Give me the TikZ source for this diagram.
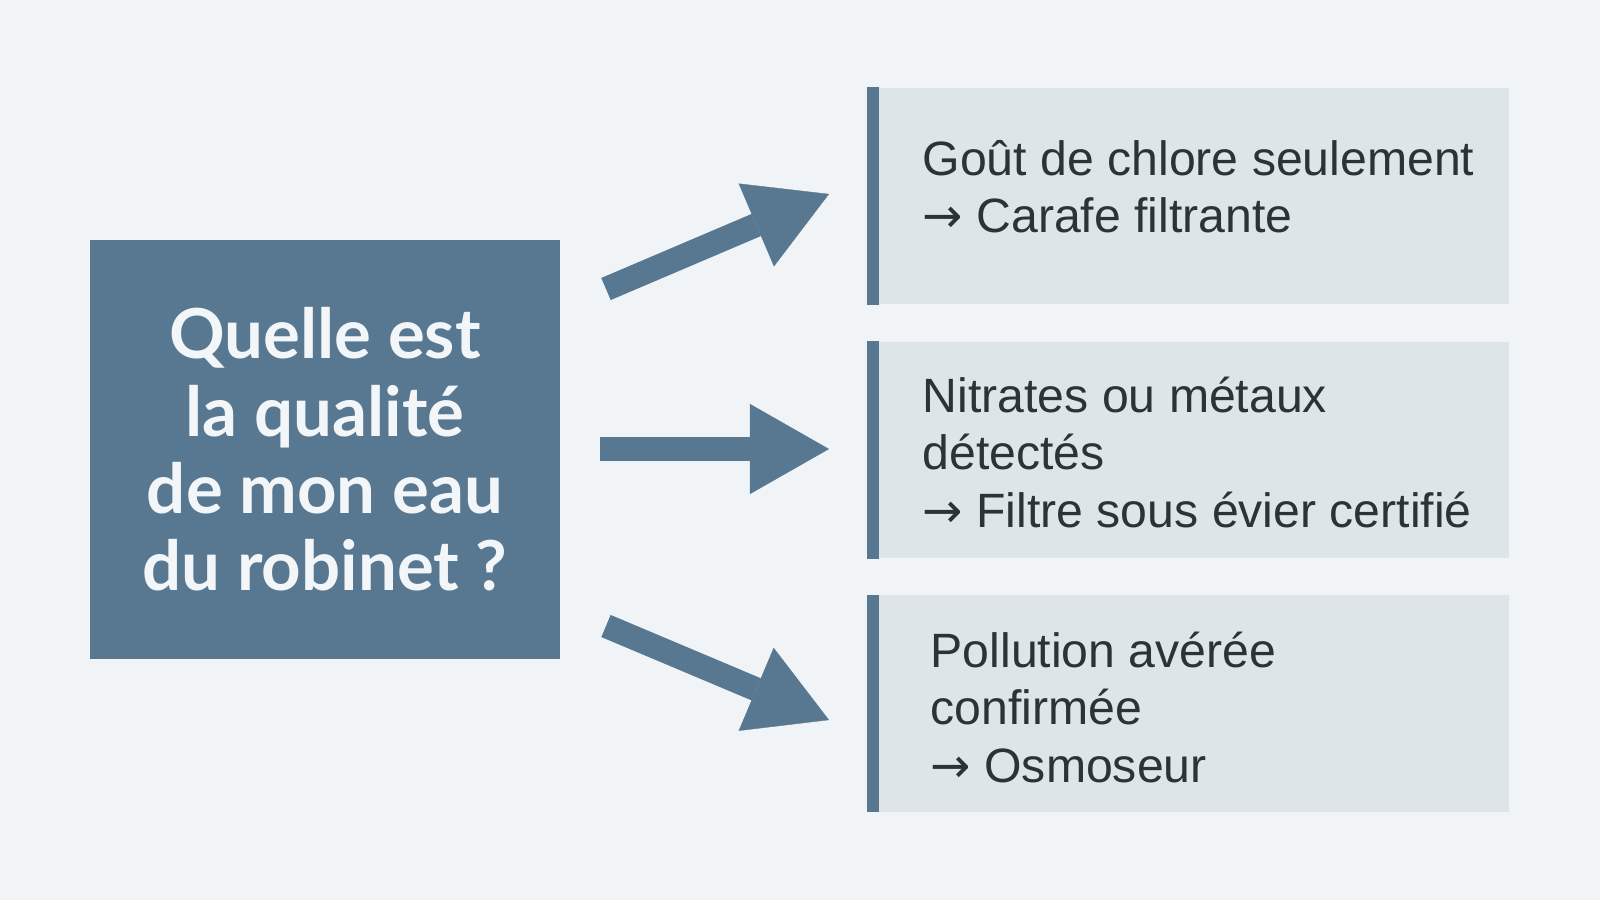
\documentclass[tikz,border=0pt]{standalone}
\usepackage{fontspec}
\setmainfont{Liberation Sans}
\newfontfamily\qfont{Lato}
\newfontfamily\arrfont{DejaVu Sans}
\usetikzlibrary{arrows.meta}
\definecolor{slate}{HTML}{587891}
\definecolor{pale}{HTML}{DDE5E8}
\definecolor{paper}{HTML}{F0F4F7}
\definecolor{ink}{HTML}{2B3238}
\definecolor{snow}{HTML}{F2F6F8}
\newcommand{\goesto}{{\arrfont →}}
\tikzset{
  qbox/.style={fill=slate, minimum width=4.7cm, minimum height=4.19cm, inner sep=0pt},
  qtext/.style={align=center, text=snow, inner sep=0pt,
    font=\qfont\bfseries\fontsize{19.6}{22}\selectfont},
  abox/.style={fill=pale, minimum width=6.41cm, minimum height=2.16cm, inner sep=0pt},
  atext/.style={anchor=base west, align=left, text=ink, inner sep=0pt,
    font=\fontsize{13.7}{16.3}\selectfont},
  fat/.style={slate, line width=0.24cm,
    -{Triangle[length=0.79cm, width=0.9cm, line width=0.1pt]}},
}
\begin{document}
\begin{tikzpicture}[x=0.01cm, y=-0.01cm]
  \fill[paper] (0,0) rectangle (1600,900);
  \useasboundingbox (0,0) rectangle (1600,900);
  % question
  \node[qbox] (q) at (325,449.5) {};
  \node[qtext] (qt) at (q) {Quelle est\\la qualité\\de mon eau\\du robinet ?};
  % answers
  \node[abox] (a1) at (1188.5,196) {};
  \node[abox] (a2) at (1188.5,450) {};
  \node[abox] (a3) at (1188.5,703.5) {};
  \foreach \b in {a1,a2,a3}
    \fill[slate] (\b.north west) rectangle ([xshift=0.12cm]\b.south west);
  \node[atext] (t1) at (922,232.7) {Goût de chlore seulement\\\goesto\ Carafe filtrante};
  \node[atext] (t2) at (922,527) {Nitrates ou métaux\\détectés\\\goesto\ Filtre sous évier certifié};
  \node[atext] (t3) at (930,782) {Pollution avérée\\confirmée\\\goesto\ Osmoseur};
  % arrows
  \coordinate (s1) at (606,289);
  \coordinate (e1) at (829,194);
  \coordinate (s2) at (600,449);
  \coordinate (e2) at (829,449);
  \coordinate (s3) at (606,626);
  \coordinate (e3) at (829,720);
  \draw[fat] (s1) -- (e1);
  \draw[fat] (s2) -- (e2);
  \draw[fat] (s3) -- (e3);
\end{tikzpicture}
\end{document}
